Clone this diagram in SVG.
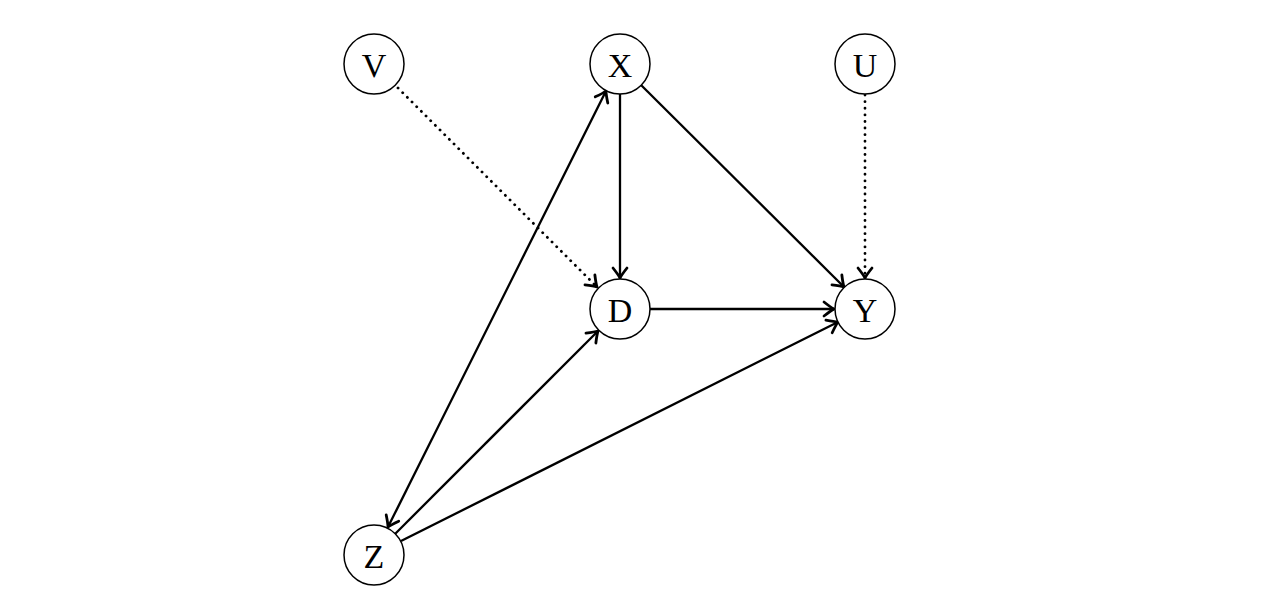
<svg xmlns="http://www.w3.org/2000/svg" width="1276" height="607" viewBox="0 0 1276 607">
<style>
.node circle{fill:#fff;stroke:#000;stroke-width:1.5}
.node text{font-family:"Liberation Serif",serif;font-size:34px;text-anchor:middle;dominant-baseline:central;fill:#000}
.e{stroke:#000;stroke-width:2.3;fill:none}
.dot{stroke-dasharray:0.1 6.5;stroke-linecap:round;stroke-width:2.8}
</style>
<defs>
<marker id="ah" viewBox="-13 -9 15 18" markerWidth="15" markerHeight="18" refX="0" refY="0" orient="auto-start-reverse" markerUnits="userSpaceOnUse">
<path d="M-10,-7 Q-3,-1.5 0,0 Q-3,1.5 -10,7" fill="none" stroke="#000" stroke-width="2.8" stroke-linecap="round" stroke-linejoin="round"/>
</marker>
</defs>
<rect width="1276" height="607" fill="#fff"/>
<g id="edges">
<line class="e dot" x1="398" y1="88" x2="597" y2="287" marker-end="url(#ah)"/>
<line class="e" x1="620" y1="94" x2="620" y2="278" marker-end="url(#ah)"/>
<line class="e" x1="641" y1="85" x2="844" y2="287" marker-end="url(#ah)"/>
<line class="e dot" x1="865" y1="95" x2="865" y2="278" marker-end="url(#ah)"/>
<line class="e" x1="650" y1="309" x2="834" y2="309" marker-end="url(#ah)"/>
<line class="e" x1="401" y1="541" x2="838" y2="322" marker-end="url(#ah)"/>
<line class="e" x1="395" y1="534" x2="598" y2="331" marker-end="url(#ah)"/>
<line class="e" x1="388" y1="527" x2="606" y2="91" marker-start="url(#ah)" marker-end="url(#ah)" stroke-width="2.5"/>
</g>
<g id="V" class="node"><circle cx="374" cy="64" r="30"/><text x="374" y="65">V</text></g>
<g id="X" class="node"><circle cx="620" cy="64" r="30"/><text x="620" y="65">X</text></g>
<g id="U" class="node"><circle cx="865" cy="64" r="30"/><text x="865" y="65">U</text></g>
<g id="D" class="node"><circle cx="620" cy="309" r="30"/><text x="620" y="310">D</text></g>
<g id="Y" class="node"><circle cx="865" cy="309" r="30"/><text x="865" y="310">Y</text></g>
<g id="Z" class="node"><circle cx="374" cy="555" r="30"/><text x="374" y="556">Z</text></g>
</svg>
